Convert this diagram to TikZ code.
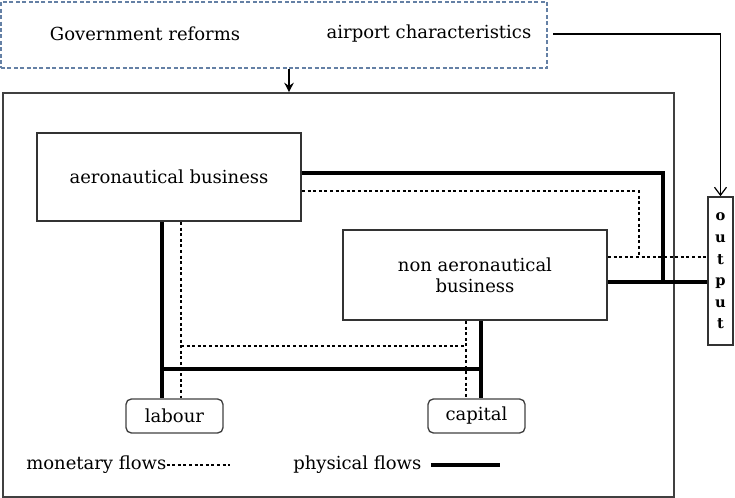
\documentclass[tikz,border=0pt]{standalone}
\usepackage{fontspec}
\setmainfont{DejaVu Serif}
\usetikzlibrary{arrows.meta}
\definecolor{envblue}{RGB}{100,128,165}
\begin{document}
\begin{tikzpicture}[>=stealth,x=0.75pt,y=-0.75pt,font=\fontsize{13.5}{16}\selectfont,
  flowbox/.style={draw=black!80,line width=1.5pt,inner sep=0pt,minimum width=198pt,minimum height=#1,align=center},
  factor/.style={draw=black!75,line width=1pt,rounded corners=4pt,inner sep=0pt,minimum width=72.75pt,minimum height=25.5pt},
  phys/.style={line width=2.3pt},
  mon/.style={line width=2pt,dash pattern=on 2.2pt off 2pt}]
	\useasboundingbox (0,0) rectangle (735,498);
	\node[draw=envblue,line width=1.5pt,dash pattern=on 3pt off 1.8pt,minimum width=409.5pt,minimum height=49.5pt] (env) at (274,35) {};
	\node (gov) at (145,34) {Government reforms};
	\node (apc) at (429,34) {airport characteristics};
	\node[draw=black!75,line width=1.2pt,minimum width=503.25pt,minimum height=303pt] (firm) at (338.5,295) {};
	\node[flowbox=66pt] (aero) at (169,177) {aeronautical business};
	\node[flowbox=67.5pt] (nonaero) at (475,275) {non aeronautical\\business};
	\node[draw=black!80,line width=1.2pt,inner sep=0pt,minimum width=18.75pt,minimum height=111pt,align=center,font=\fontsize{11}{16.2}\selectfont\bfseries] (out) at (720.5,271) {o\\u\\t\\p\\u\\t};
	\node[factor] (lab) at (174.5,416) {labour};
	\node[factor] (cap) at (476.5,416) {capital};
	\node[anchor=west,inner sep=0pt] (mleg) at (26,465) {monetary flows};
	\node[anchor=west,inner sep=0pt] (pleg) at (293,465) {physical flows};
	\coordinate (mend) at (230,465);
	\coordinate (pend) at (500,465);
	\coordinate (pj) at (663,282);
	\coordinate (mj) at (639,257);
	\draw[-{Stealth[length=7pt,width=7pt]},line width=1.6pt] (env.south -| 289,0) -- (firm.north -| 289,0);
	\draw[-{Straight Barb[length=6pt,width=9pt]},line width=.9pt] ([xshift=4pt]env.east |- apc) -| (out.north);
	\draw[phys] ([yshift=3pt]aero.east) -| (pj);
	\draw[phys] (nonaero.east |- pj) -- (out.west |- pj);
	\draw[mon] ([yshift=-10.5pt]aero.east) -| (mj);
	\draw[mon] (nonaero.east |- mj) -- (out.west |- mj);
	\draw[phys] (aero.south -| 162,0) -- (lab.north -| 162,0);
	\draw[mon] (aero.south -| 181,0) -- (lab.north -| 181,0);
	\draw[phys] (nonaero.south -| 481,0) -- (cap.north -| 481,0);
	\draw[mon] (nonaero.south -| 466,0) -- (cap.north -| 466,0);
	\draw[phys] (162,369) -- (481,369);
	\draw[mon] (181,346) -- (466,346);
	\draw[mon] (mleg.east) -- (mend);
	\draw[phys] ([xshift=7pt]pleg.east) -- (pend);
\end{tikzpicture}
\end{document}
